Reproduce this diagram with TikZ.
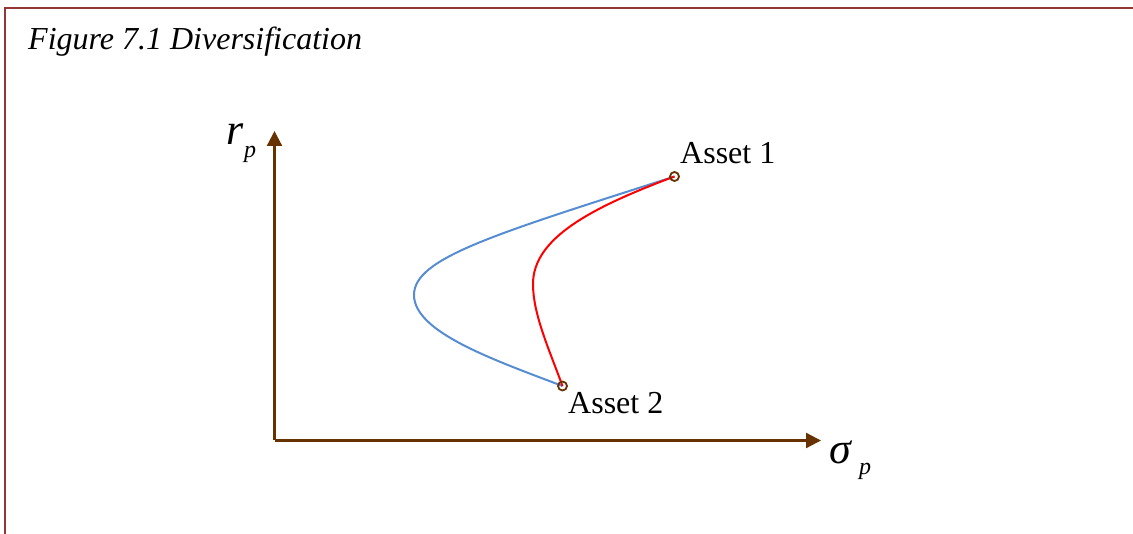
\documentclass[tikz,border=0pt]{standalone}
\usepackage{fontspec}
\setmainfont{Liberation Serif}
\usetikzlibrary{arrows.meta}
\definecolor{framered}{RGB}{148,54,52}
\definecolor{axisbrown}{RGB}{102,51,0}
\definecolor{curveblue}{RGB}{86,140,210}
\tikzset{
  axis/.style={draw=axisbrown, line width=2.3pt, -{Triangle[length=15pt,width=15pt]}},
  frontier/.style={line width=2pt},
  asset/.style={circle, draw=axisbrown, line width=1.8pt, minimum size=9pt, inner sep=0pt},
  label/.style={anchor=base west, inner sep=0pt, font=\fontsize{32}{38}\selectfont},
}
\begin{document}
\begin{tikzpicture}[x=1pt, y=-1pt]
  \useasboundingbox (0,0) rectangle (1133,534);
  % page frame: top rule and left rule
  \coordinate (frameTL) at (5,8);
  \coordinate (frameTR) at (1133,8);
  \coordinate (frameBL) at (5,534);
  \draw[framered, line width=2.5pt] (frameTR) -- (frameTL) -- (frameBL);

  % caption
  \node[label, font=\fontsize{32}{38}\selectfont\itshape] (title) at (28,50) {Figure 7.1 Diversification};

  % axes
  \coordinate (O) at (274.5,440.5);
  \coordinate (ytip) at (274.5,131);
  \coordinate (xtip) at (821,440.5);
  \draw[axis] (O) -- (ytip);
  \draw[axis] (O) -- (xtip);

  % axis labels
  \node[anchor=base west, inner sep=0pt, font=\fontsize{44}{50}\selectfont\itshape] (r) at (226,145) {r};
  \node[anchor=base west, inner sep=0pt, font=\fontsize{24}{28}\selectfont\itshape] (rp) at (244,158) {p};
  \node[anchor=base west, inner sep=0pt, font=\fontsize{44}{50}\selectfont\itshape] (sigma) at (829,464) {σ};
  \node[anchor=base west, inner sep=0pt, font=\fontsize{24}{28}\selectfont\itshape] (sp) at (859,475) {p};

  % the two assets and the leftmost points of the two curves
  \coordinate (A1) at (674.5,176.5);
  \coordinate (A2) at (562.5,386);
  \coordinate (Lb) at (414,295);
  \coordinate (Lr) at (533,284);

  % opportunity sets
  \draw[frontier, curveblue] (A1) .. controls (494,234.5) and (414,258) .. (Lb)
                                  .. controls (414,332) and (492.5,359.4) .. (A2);
  \draw[frontier, red] (A1) .. controls (589,208.3) and (533,239) .. (Lr)
                            .. controls (533,314) and (548.7,348.4) .. (A2);

  \node[asset] (a1) at (A1) {};
  \node[asset] (a2) at (A2) {};
  \node[label] (l1) at (680,164) {Asset 1};
  \node[label] (l2) at (568,414) {Asset 2};
\end{tikzpicture}
\end{document}
